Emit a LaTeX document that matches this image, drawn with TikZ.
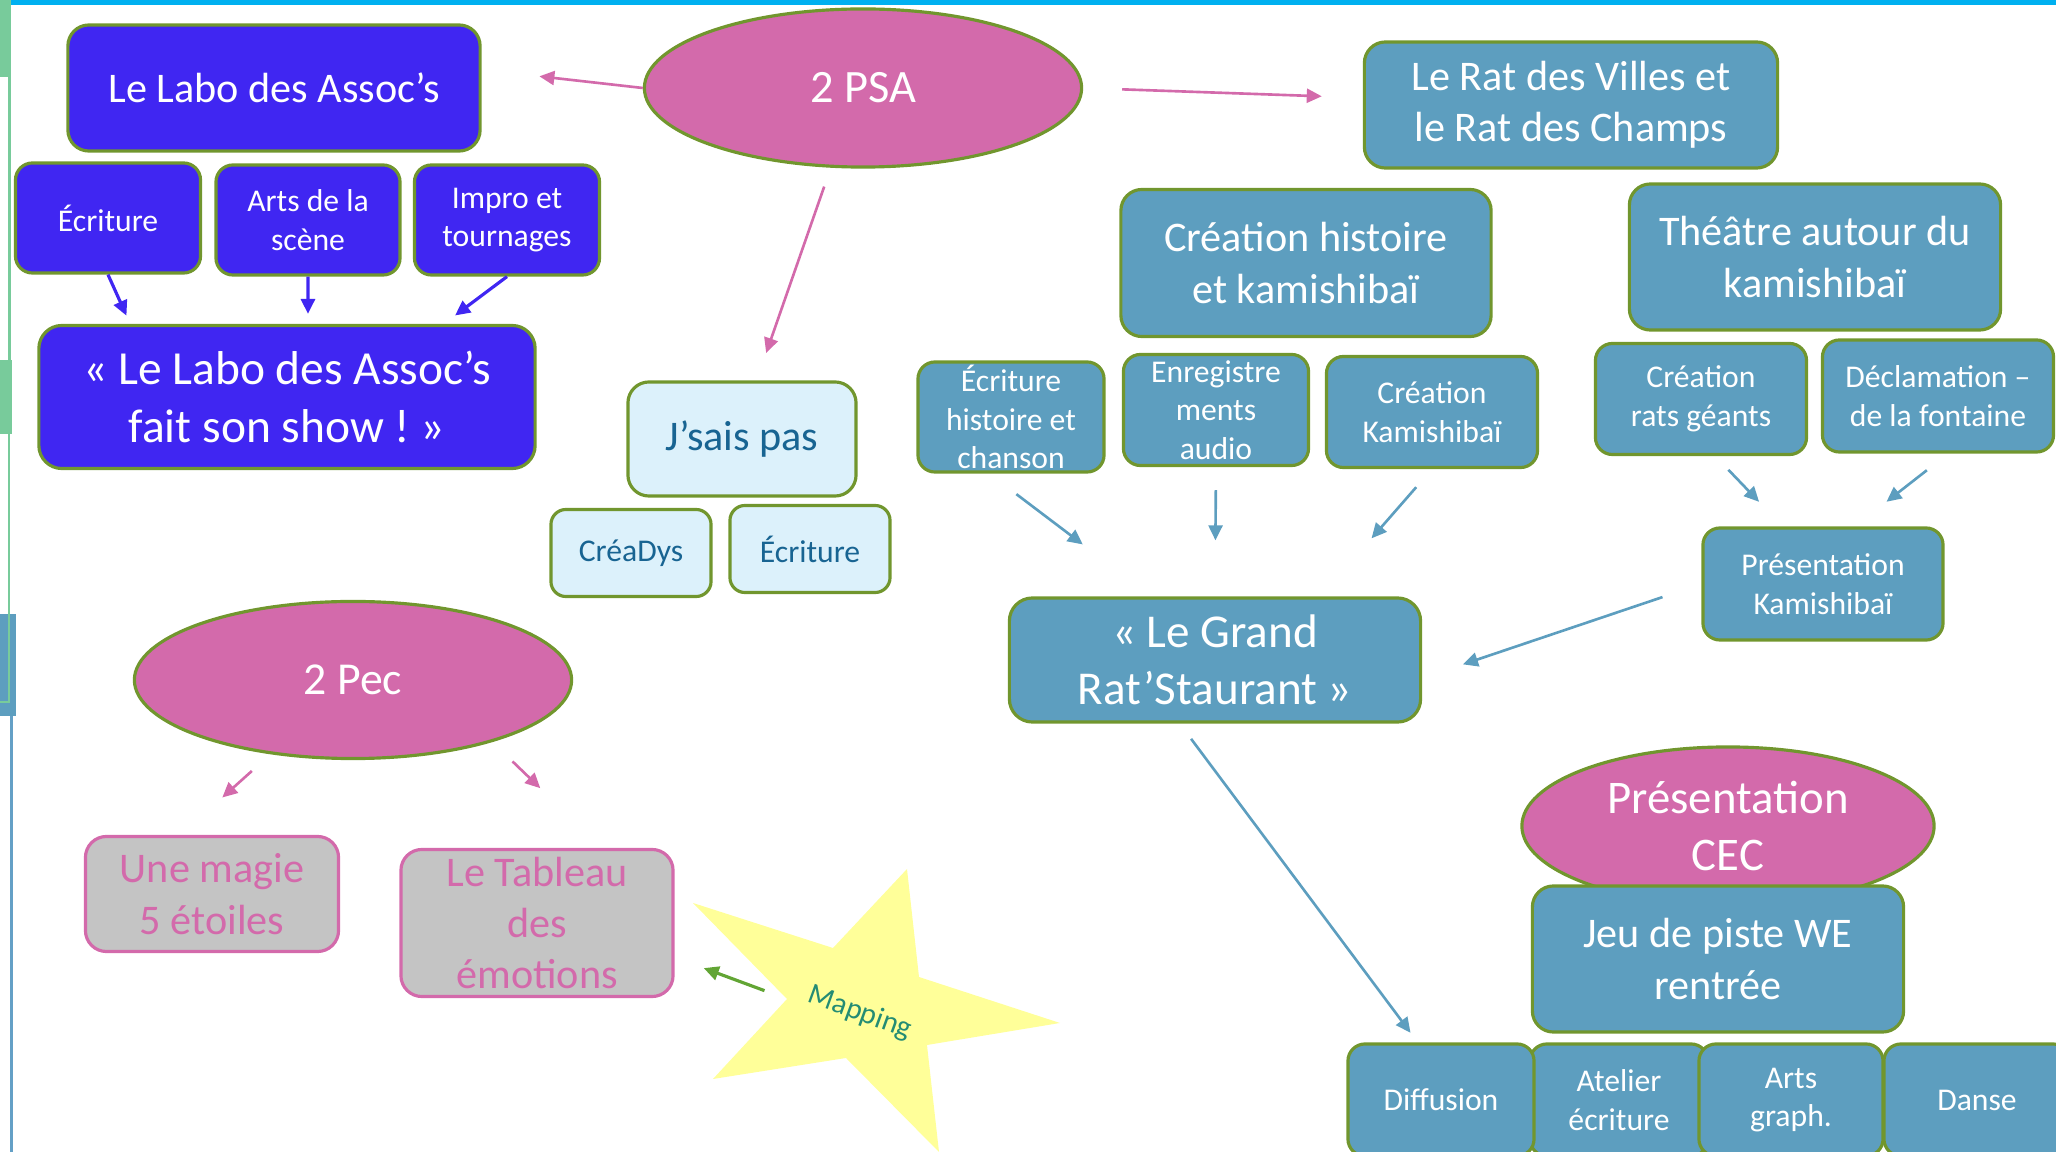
\documentclass[tikz,border=0pt]{standalone}
\usepackage{fontspec}
\setmainfont{Carlito}
\usetikzlibrary{shapes.geometric,arrows.meta}
\frenchspacing

\definecolor{labo}{RGB}{64,38,242}
\definecolor{olivegreen}{RGB}{113,150,46}
\definecolor{rose}{RGB}{211,106,171}
\definecolor{steel}{RGB}{93,158,191}
\definecolor{pale}{RGB}{220,241,251}
\definecolor{ink}{RGB}{24,100,146}
\definecolor{grey}{RGB}{196,196,196}
\definecolor{starfill}{RGB}{255,255,153}
\definecolor{mapink}{RGB}{36,140,116}
\definecolor{leaf}{RGB}{98,165,52}
\definecolor{cyanline}{RGB}{0,176,240}
\definecolor{mint}{RGB}{120,203,155}
\definecolor{edgeblue}{RGB}{100,160,198}

\tikzstyle{plainbox}=[rectangle, draw=olivegreen, line width=0.9pt, inner sep=0pt, align=center]
\tikzstyle{labobox}=[plainbox, fill=labo, text=white]
\tikzstyle{ratbox}=[plainbox, fill=steel, text=white]
\tikzstyle{palebox}=[plainbox, fill=pale, text=ink]
\tikzstyle{greybox}=[plainbox, fill=grey, draw=rose, text=rose]
\tikzstyle{bubble}=[ellipse, draw=olivegreen, line width=0.9pt, fill=rose, text=white, inner sep=0pt, align=center]
\tikzstyle{bigtxt}=[font=\fontsize{12}{14.6}\selectfont, rounded corners=0.21cm]
\tikzstyle{hugetxt}=[font=\fontsize{13.4}{16.3}\selectfont, rounded corners=0.23cm]
\tikzstyle{smalltxt}=[font=\fontsize{9}{11}\selectfont, rounded corners=0.17cm]
\tikzstyle{labarrow}=[->, draw=labo, fill=labo, line width=0.9pt]
\tikzstyle{rosearrow}=[->, draw=rose, fill=rose, line width=0.75pt]
\tikzstyle{steelarrow}=[->, draw=steel, fill=steel, line width=0.75pt]
\tikzstyle{leafarrow}=[->, draw=leaf, fill=leaf, line width=0.9pt]

\begin{document}
\begin{tikzpicture}[x=0.01cm, y=-0.01cm, >={Triangle[length=0.15cm, width=0.14cm]}]
	\useasboundingbox (0,0) rectangle (2056,1152);
	%Slide edges
	\fill[cyanline] (10,0) rectangle (2056,5);
	\fill[mint] (0,0) rectangle (11,77);
	\fill[mint] (0,360) rectangle (12,434);
	\fill[steel] (0,614) rectangle (16,716);
	\draw[mint, line width=0.6pt] (9.5,77) -- (9.5,360);
	\draw[mint, line width=0.6pt] (9,434) -- (9,702) -- (0,702);
	\draw[edgeblue, line width=0.6pt] (11.5,716) -- (11.5,1152);

	%The Labo des Assoc's nodes
	\node[labobox, bigtxt, minimum width=4.12cm, minimum height=1.26cm] (labo) at (274,88) {Le Labo des Assoc’s};
	\foreach \pos/\name/\w/\txt in {{(108,218)/ecr/1.85/Écriture},		{(308,220)/arts/1.84/Arts de la\\scène},
									{(507,220)/impro/1.85/Impro et\\tournages}}
	\node[labobox, smalltxt, minimum width=\w cm, minimum height=1.10cm] (\name) at \pos {\txt};
	\node[labobox, hugetxt, font=\fontsize{13.5}{16.4}\selectfont, minimum width=4.96cm, minimum height=1.43cm] (show) at (287,397) {« Le Labo des Assoc’s\\fait son show ! »};

	%The pink bubbles
	\node[bubble, font=\fontsize{13.2}{16.1}\selectfont, minimum width=4.37cm, minimum height=1.58cm] (psa) at (863,88) {2 PSA};
	\node[bubble, font=\fontsize{13}{15.9}\selectfont, minimum width=4.37cm, minimum height=1.57cm] (pec) at (353,680) {2 Pec};

	%The Rat des Villes nodes
	\foreach \pos/\name/\w/\h/\txt in 	{{(1571,105)/rat/4.13/1.26/Le Rat des Villes et\\le Rat des Champs},
										 {(1306,263)/creahist/3.70/1.47/Création histoire\\et kamishibaï},
										 {(1815,257)/theatre/3.71/1.46/Théâtre autour du\\kamishibaï}}
	\node[ratbox, bigtxt, minimum width=\w cm, minimum height=\h cm] (\name) at \pos {\txt};
	\foreach \pos/\name/\w/\h/\txt in 	{{(1011,417)/ecrhist/1.86/1.10/Écriture\\histoire et\\chanson},
										 {(1216,410)/enreg/1.85/1.11/Enregistre\\ments\\audio},
										 {(1432,412)/creakami/2.11/1.11/Création\\Kamishibaï},
										 {(1701,399)/ratsg/2.11/1.11/Création\\rats géants},
										 {(1938,396)/declam/2.31/1.12/Déclamation –\\de la fontaine},
										 {(1823,584)/preskami/2.40/1.12/Présentation\\Kamishibaï}}
	\node[ratbox, smalltxt, minimum width=\w cm, minimum height=\h cm] (\name) at \pos {\txt};
	\node[ratbox, hugetxt, minimum width=4.11cm, minimum height=1.24cm] (grand) at (1215,660) {« Le Grand\\Rat’Staurant »};

	%The J'sais pas nodes
	\node[palebox, bigtxt, minimum width=2.28cm, minimum height=1.14cm] (jsais) at (742,439) {J’sais pas};
	\foreach \pos/\name/\txt in {{(631,553)/creadys/CréaDys},	{(810,549)/ecrl/Écriture}}
	\node[palebox, smalltxt, rounded corners=0.15cm, minimum width=1.60cm, minimum height=0.87cm] (\name) at \pos {\txt};

	%The 2 Pec nodes
	\node[greybox, bigtxt, minimum width=2.53cm, minimum height=1.15cm] (magie) at (212,894) {Une magie\\5 étoiles};
	\node[greybox, bigtxt, minimum width=2.72cm, minimum height=1.47cm] (tableau) at (537,923) {Le Tableau\\des\\émotions};

	%The Mapping star
	\coordinate (starN) at (907,869);	\coordinate (starA) at (919,977);
	\coordinate (starE) at (1060,1023);	\coordinate (starB) at (927,1045);
	\coordinate (starS) at (939,1152);	\coordinate (starC) at (846,1058);
	\coordinate (starSW) at (713,1079);	\coordinate (starW) at (787,999);
	\coordinate (starNW) at (693,903);	\coordinate (starD) at (833,948);
	\fill[starfill] (starN) -- (starA) -- (starE) -- (starB) -- (starS) -- (starC) -- (starSW) -- (starW) -- (starNW) -- (starD) -- cycle;
	\node[text=mapink, font=\fontsize{8.5}{10}\selectfont, rotate=-20, inner sep=0pt] (mapping) at (860,1013) {Mapping};

	%Presentation CEC nodes
	\node[bubble, font=\fontsize{13.3}{16.2}\selectfont, minimum width=4.12cm, minimum height=1.58cm] (cec) at (1728,826) {Présentation\\CEC};
	\node[ratbox, bigtxt, minimum width=3.71cm, minimum height=1.46cm] (jeu) at (1718,959) {Jeu de piste WE\\rentrée};
	\foreach \pos/\name/\w/\txt in {{(1619,1100)/atelier/1.78/Atelier\\écriture},	{(1441,1100)/diffusion/1.86/Diffusion},
									{(1791,1100)/artsg/1.84/Arts\\graph.},		{(1977,1100)/danse/1.86/Danse}}
	\node[ratbox, smalltxt, minimum width=\w cm, minimum height=1.12cm] (\name) at \pos {\txt};

	%Adding the arrows
	\foreach \tail/\head/\sa/\sb in {ecr.south/show.155/0/0.09,	arts.south/show.74/0/0.10,	impro.south/show.25/0/0.14}
	\draw[labarrow, shorten <=\sa cm, shorten >=\sb cm] (\tail) -- (\head);
	\foreach \tail/\head/\sa/\sb in {psa.west/labo.5/0/0.58,		psa.east/rat.178/0.39/0.41,
									 psa.248/jsais.76/0.20/0.29,	pec.222/magie.118/0.25/0.56,
									 pec.336/tableau.49/0.28/0.86}
	\draw[rosearrow, shorten <=\sa cm, shorten >=\sb cm] (\tail) -- (\head);
	\foreach \tail/\head/\sa/\sb in {ecrhist.249/grand.135/0.34/0.86,		enreg.south/grand.north/0.23/0.56,
									 creakami.south/grand.31/0.24/0.77,		ratsg.284/preskami.125/0.19/0.34,
									 declam.280/preskami.61/0.27/0.40,		preskami.west/grand.355/0.41/0.43,
									 grand.241/diffusion.112/0.19/0.12}
	\draw[steelarrow, shorten <=\sa cm, shorten >=\sb cm] (\tail) -- (\head);
	\draw[leafarrow, shorten <=0.24cm, shorten >=0.31cm] (starW) -- (tableau.346);
\end{tikzpicture}
\end{document}
